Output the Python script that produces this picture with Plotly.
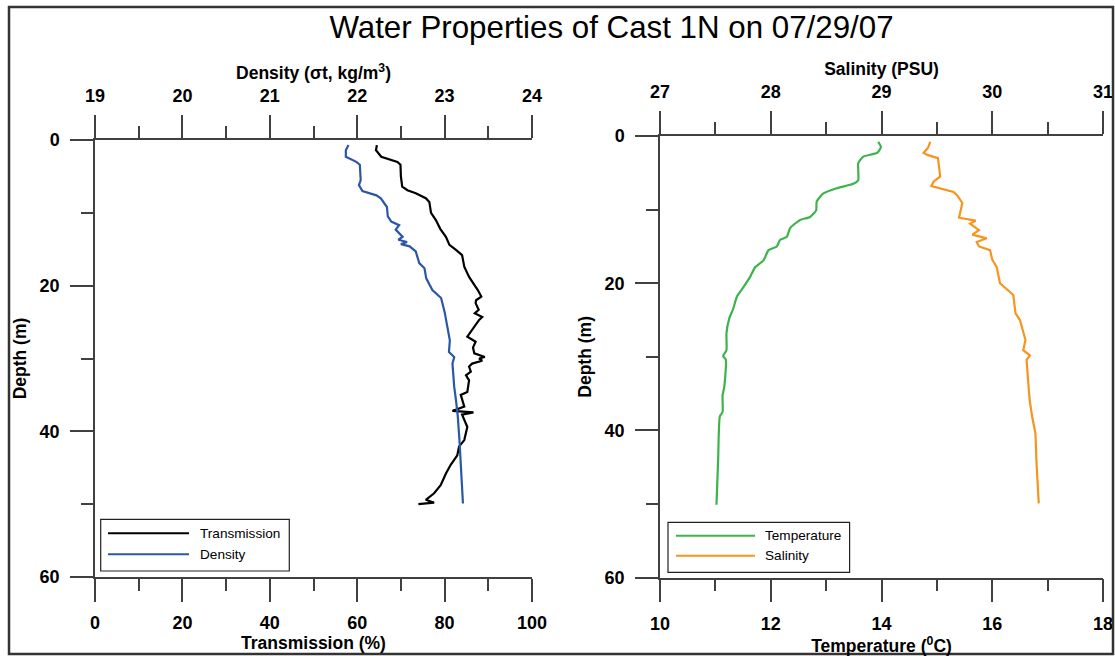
import plotly.graph_objects as go

# ---------------- data ----------------
trans_depth = [0.7, 1.4, 2.3, 3.0, 3.4, 5.0, 6.4, 6.9, 7.3, 8.0, 8.5, 10.0, 11.0, 12.2, 13.3,
               14.4, 15.1, 15.8, 17.4, 18.8, 19.9, 20.6, 21.5, 22.0, 22.4, 23.3, 23.8, 24.3,
               24.7, 25.5, 26.3, 27.0, 27.7, 28.5, 29.3, 29.8, 30.0, 30.3, 30.7, 31.1, 31.8,
               32.3, 33.0, 34.6, 35.0, 36.6, 37.2, 37.4, 37.7, 38.4, 39.4, 41.2, 42.1, 43.3,
               44.6, 45.8, 47.4, 48.5, 49.4, 49.8, 50.0]
transmission = [64.5, 64.3, 65.5, 69.2, 69.9, 70.0, 70.3, 71.5, 73.4, 75.7, 76.5, 76.9, 78.0,
                79.0, 80.3, 81.1, 82.6, 84.0, 84.5, 85.6, 86.8, 87.6, 88.4, 87.2, 87.1, 87.8,
                86.9, 88.6, 87.9, 87.0, 86.0, 85.2, 87.1, 86.5, 86.8, 89.2, 87.9, 88.6, 86.3,
                85.6, 86.0, 84.9, 85.6, 85.2, 83.7, 84.5, 81.8, 86.6, 84.0, 84.5, 85.2, 84.5,
                83.3, 82.9, 81.4, 80.3, 79.1, 77.6, 75.7, 77.6, 74.0]

dens_depth = [0.7, 1.4, 2.3, 3.0, 3.4, 5.5, 6.2, 7.0, 7.6, 8.0, 9.2, 10.5, 11.2, 11.7, 12.3,
              13.3, 13.7, 14.0, 14.3, 14.6, 15.3, 16.9, 17.6, 19.0, 20.6, 21.7, 23.6, 25.4,
              27.5, 29.1, 29.8, 30.7, 33.9, 35.7, 37.8, 41.2, 44.9, 49.9]
density = [21.90, 21.87, 21.87, 21.99, 22.03, 22.04, 22.02, 22.06, 22.22, 22.27, 22.34, 22.35,
           22.39, 22.48, 22.44, 22.52, 22.47, 22.57, 22.50, 22.60, 22.67, 22.71, 22.77, 22.79,
           22.86, 22.96, 23.00, 23.03, 23.06, 23.05, 23.11, 23.09, 23.11, 23.13, 23.15, 23.17,
           23.19, 23.21]

temp_depth = [0.8, 1.5, 2.3, 2.8, 3.7, 6.0, 6.5, 7.1, 7.8, 8.9, 10.1, 11.0, 11.4, 12.5, 13.7,
              14.1, 15.0, 15.5, 16.9, 17.8, 19.1, 20.5, 21.8, 23.5, 24.8, 26.8, 29.1, 29.9,
              30.4, 34.1, 35.2, 37.5, 38.1, 44.0, 50.1]
temperature = [13.94, 13.99, 13.92, 13.67, 13.58, 13.58, 13.49, 13.19, 12.95, 12.83, 12.82,
               12.71, 12.53, 12.35, 12.29, 12.17, 12.11, 11.96, 11.87, 11.72, 11.63, 11.51,
               11.39, 11.32, 11.25, 11.20, 11.20, 11.14, 11.19, 11.16, 11.13, 11.13, 11.08,
               11.05, 11.02]

sal_depth = [0.8, 1.6, 2.3, 2.6, 3.0, 4.0, 5.5, 6.2, 6.8, 7.6, 8.0, 9.1, 10.3, 11.1, 11.5,
             11.9, 12.8, 13.4, 13.9, 14.4, 15.0, 15.5, 16.8, 17.8, 20.0, 21.6, 24.1, 25.0,
             27.7, 29.1, 29.8, 30.4, 34.5, 36.1, 38.1, 40.4, 44.5, 49.9]
salinity = [29.44, 29.42, 29.38, 29.42, 29.51, 29.52, 29.53, 29.47, 29.45, 29.65, 29.68, 29.73,
            29.71, 29.70, 29.85, 29.80, 29.88, 29.82, 29.95, 29.86, 29.88, 29.98, 30.00, 30.04,
            30.07, 30.19, 30.21, 30.25, 30.30, 30.28, 30.34, 30.31, 30.33, 30.34, 30.36, 30.39,
            30.40, 30.42]

left_names = ["Transmission", "Density"]
right_names = ["Temperature", "Salinity"]
colors = {"Transmission": "#000000", "Density": "#2b57a7",
          "Temperature": "#3cb44b", "Salinity": "#f7941d"}

title_text = "Water Properties of Cast 1N on 07/29/07"

# ---------------- figure ----------------
W, H = 1115, 656
FONT = "Liberation Sans, Arial, sans-serif"
AX = "#404040"


def px(x):
    return x / W


def py(y):
    return 1 - y / H


fig = go.Figure()
fig.add_trace(go.Scatter(x=transmission, y=trans_depth, mode="lines", name="Transmission",
                         xaxis="x", yaxis="y", line=dict(color=colors["Transmission"], width=2.2),
                         showlegend=False))
fig.add_trace(go.Scatter(x=density, y=dens_depth, mode="lines", name="Density",
                         xaxis="x2", yaxis="y", line=dict(color=colors["Density"], width=2.2),
                         showlegend=False))
fig.add_trace(go.Scatter(x=temperature, y=temp_depth, mode="lines", name="Temperature",
                         xaxis="x3", yaxis="y2",
                         line=dict(color=colors["Temperature"], width=2.2, shape="spline", smoothing=0.5),
                         showlegend=False))
fig.add_trace(go.Scatter(x=salinity, y=sal_depth, mode="lines", name="Salinity",
                         xaxis="x4", yaxis="y2", line=dict(color=colors["Salinity"], width=2.2),
                         showlegend=False))

tickfont = dict(family=FONT, size=18, color="#000", weight="bold")
titlefont = dict(family=FONT, size=17.5, color="#000", weight="bold")


def xax(rng, dtick, minor, side, title, domain=None, overlay=None, anchor="y", standoff=2):
    d = dict(range=rng, dtick=dtick, tick0=rng[0], side=side, anchor=anchor, automargin=False,
             showline=True, linecolor=AX, linewidth=1.5,
             ticks="outside", ticklen=23, tickwidth=1.5, tickcolor=AX,
             minor=dict(dtick=minor, ticks="outside", ticklen=12, tickwidth=1.5, tickcolor=AX),
             showgrid=False, zeroline=False, tickfont=tickfont, ticklabelstandoff=6,
             title=dict(text=title, font=titlefont, standoff=standoff), fixedrange=True)
    if domain is not None:
        d["domain"] = domain
    if overlay is not None:
        d["overlaying"] = overlay
    return d


def yax(domain, anchor):
    return dict(range=[60, 0], dtick=20, tick0=0, domain=domain, anchor=anchor, automargin=False,
                showline=True, linecolor=AX, linewidth=1.5,
                ticks="outside", ticklen=23, tickwidth=1.5, tickcolor=AX,
                minor=dict(dtick=10, ticks="outside", ticklen=12, tickwidth=1.5, tickcolor=AX),
                showgrid=False, zeroline=False, tickfont=tickfont, ticklabelstandoff=7,
                title=dict(text="Depth (m)", font=titlefont, standoff=8), fixedrange=True)


left_dom = [px(95), px(532)]
right_dom = [px(660), px(1103)]

fig.update_layout(
    width=W, height=H, margin=dict(l=0, r=0, t=0, b=0, autoexpand=False),
    paper_bgcolor="white", plot_bgcolor="rgba(0,0,0,0)",
    font=dict(family=FONT, color="#000"),
    title=dict(text=title_text, x=px(611.5), xanchor="center", y=py(27), yanchor="middle",
               font=dict(family=FONT, size=31.3, color="#000")),
    xaxis=xax([0, 100], 20, 10, "bottom", "Transmission (%)", domain=left_dom, anchor="y"),
    xaxis2=xax([19, 24], 1, 0.5, "top", "Density (σt, kg/m<sup>3</sup>)", overlay="x", anchor="y"),
    xaxis3=xax([10, 18], 2, 1, "bottom", "Temperature (<sup>0</sup>C)", domain=right_dom,
               anchor="y2", standoff=0),
    xaxis4=xax([27, 31], 1, 0.5, "top", "Salinity (PSU)", overlay="x3", anchor="y2"),
    yaxis=yax([py(577), py(140)], "x"),
    yaxis2=yax([py(577.7), py(136)], "x3"),
    showlegend=False,
)

shapes = []
annotations = []
# outer frame
shapes.append(dict(type="rect", xref="paper", yref="paper", x0=px(9), x1=px(1113),
                   y0=py(654), y1=py(7), line=dict(color="#333", width=2.5)))


def add_legend(box, line_x, ys, text_x, names):
    x0, x1, y0, y1 = box
    shapes.append(dict(type="rect", xref="paper", yref="paper", x0=px(x0), x1=px(x1),
                       y0=py(y1), y1=py(y0), line=dict(color="#222", width=1.2),
                       fillcolor="white"))
    for name, yy in zip(names, ys):
        shapes.append(dict(type="line", xref="paper", yref="paper", x0=px(line_x[0]),
                           x1=px(line_x[1]), y0=py(yy), y1=py(yy),
                           line=dict(color=colors[name], width=2)))
        annotations.append(dict(xref="paper", yref="paper", x=px(text_x), y=py(yy),
                                xanchor="left", yanchor="middle", showarrow=False, text=name,
                                font=dict(family=FONT, size=13.6, color="#000")))


add_legend((100.7, 289.3, 519.3, 571.0), (108, 189), (533.3, 554.3), 198, left_names)
add_legend((668.0, 849.6, 522.3, 572.3), (676, 755), (535.7, 555.7), 763, right_names)

fig.update_layout(shapes=shapes, annotations=annotations)

fig.write_html("out.html", config={"displayModeBar": False},
               post_script="document.body.style.margin='0';document.body.style.overflow='hidden';")
